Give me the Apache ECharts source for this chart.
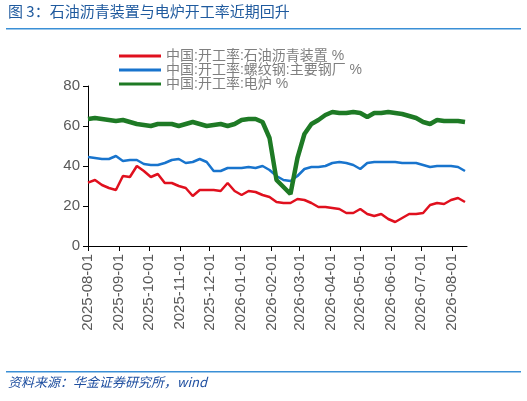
<!DOCTYPE html><html><head><meta charset="utf-8"><script src="https://cdn.jsdelivr.net/npm/echarts@6/dist/echarts.min.js"></script>
<style>body{margin:0}#c{width:527px;height:401px}</style></head><body><div id="c"></div><script>
const startDate = '2025-08-01';
const asphalt = [31.7,33,30.5,29,28,35,34.5,40,37.5,34.5,36,31.5,31.5,30,29,25,28,28,28,27.5,31.5,27.5,25.5,27.5,27,25.5,24.5,22,21.5,21.5,23.5,23,21.5,19.5,19.5,19,18.5,16.5,16.5,18.5,16,15,16,13.5,12,14,16,16,16.5,20.5,21.5,21,23,24,22];
const rebar = [44.5,44,43.5,43.5,45,42.5,43,43,41,40.5,40.5,41.5,43,43.5,41.5,42,43.5,42,37.5,37.5,39,39,39,39.5,39,40,38,35,33,32.5,35,38.5,39.5,39.5,40,41.5,42,41.5,40.5,38.5,41.5,42,42,42,42,41.5,41.5,41.5,40.5,39.5,40,40,40,39.5,37.5];
const eaf = [63.5,64,63.5,63,62.5,63,62,61,60.5,60,61,61,61,60,61,62,61,60,60.5,61,60,61,63,63.5,63.5,62,54,33,29.5,26,44,56,61,63,65.5,67,66.5,66.5,67,66.5,64.5,66.5,66.5,67,66.5,66,65,64,62,61,63,62.5,62.5,62.5,62];
const names = ['中国:开工率:石油沥青装置 %','中国:开工率:螺纹钢:主要钢厂 %','中国:开工率:电炉 %'];
const t0 = new Date(startDate+'T00:00:00Z').getTime(), wk = 7*86400000;
const mk = a => a.map((v,i)=>[t0+i*wk,v]);
const ch = echarts.init(document.getElementById('c'));
const F = 'Liberation Sans, Noto Sans CJK SC, sans-serif';
ch.setOption({
  animation:false,
  graphic:[
    {type:'text',left:8,top:4,style:{text:'图 3：石油沥青装置与电炉开工率近期回升',fill:'#1f5a9e',font:'15px Noto Sans CJK SC'}},
    {type:'rect',shape:{x:6,y:28,width:515,height:1.5},style:{fill:'#3a8fd6'}},
    {type:'rect',shape:{x:6,y:371,width:515,height:1.5},style:{fill:'#3a8fd6'}},
    {type:'text',left:8,top:376,style:{text:'资料来源：华金证券研究所，wind',fill:'#1f4fa0',font:'italic 13px Noto Sans CJK SC'}}
  ],
  legend:{orient:'vertical',left:114,top:44,itemGap:0,itemWidth:42,itemHeight:3,icon:'rect',
    textStyle:{color:'#7f7f7f',fontSize:14,fontFamily:F},data:names},
  grid:{left:88,right:60,top:86,bottom:155},
  xAxis:{type:'time',min:t0,max:t0+54*wk+2*86400000,minInterval:28*86400000,maxInterval:31*86400000,
    axisLine:{lineStyle:{color:'#000'}},axisTick:{show:true,length:5,lineStyle:{color:'#000'}},splitLine:{show:false},
    axisLabel:{rotate:90,color:'#595959',fontSize:15,fontFamily:F,formatter:'{yyyy}-{MM}-{dd}',showMaxLabel:false}},
  yAxis:{type:'value',min:0,max:80,interval:20,
    axisLine:{show:true,lineStyle:{color:'#000'}},axisTick:{show:true,length:5,lineStyle:{color:'#000'}},splitLine:{show:false},
    axisLabel:{color:'#595959',fontSize:15,fontFamily:F}},
  series:[
    {name:names[0],type:'line',data:mk(asphalt),showSymbol:false,lineStyle:{width:2.5,color:'#e0101e'},itemStyle:{color:'#e0101e'}},
    {name:names[1],type:'line',data:mk(rebar),showSymbol:false,lineStyle:{width:2.5,color:'#1874cd'},itemStyle:{color:'#1874cd'}},
    {name:names[2],type:'line',data:mk(eaf),showSymbol:false,lineStyle:{width:4.5,color:'#1e7a25'},itemStyle:{color:'#1e7a25'}}
  ]
});
</script></body></html>
